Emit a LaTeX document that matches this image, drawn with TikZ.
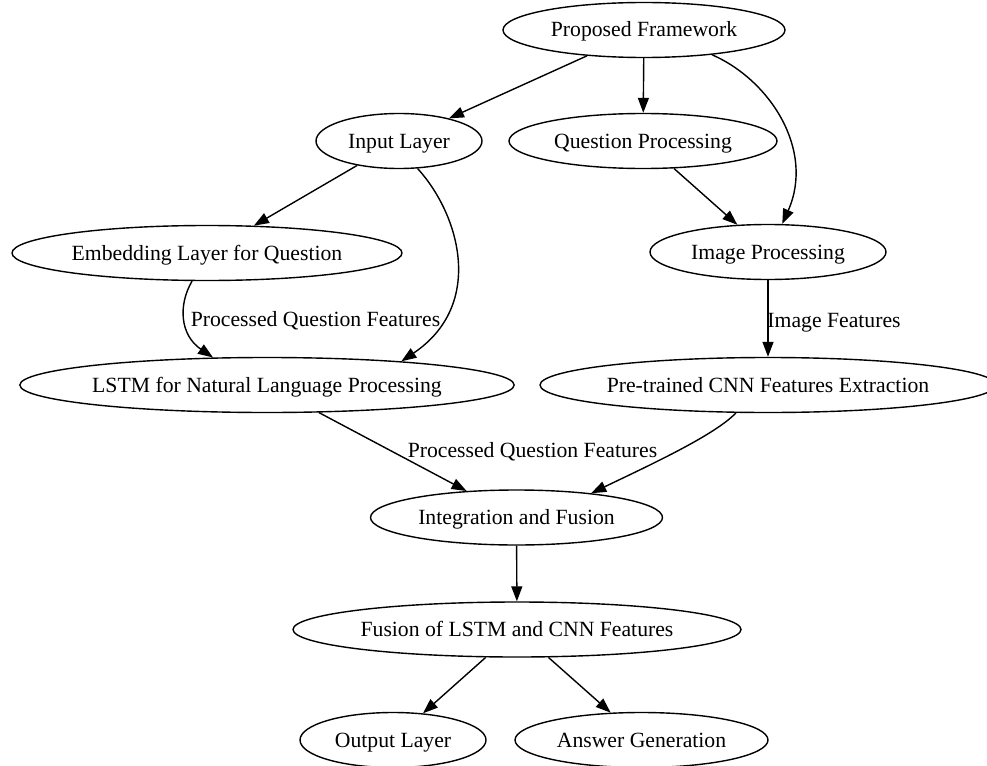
\documentclass[tikz,border=0pt]{standalone}
\usepackage{fontspec}
\setmainfont{Liberation Serif}
\usetikzlibrary{shapes.geometric,arrows.meta}
\begin{document}
\begin{tikzpicture}[x=1pt,y=-1pt,
  box/.style={draw, ellipse, line width=1.4pt, inner sep=0pt, minimum height=55pt,
    text height=19pt, text depth=5pt,
    font=\fontsize{21.7}{24}\selectfont},
  edge/.style={line width=1.4pt, -{Triangle[length=15pt,width=11pt]}},
  lbl/.style={font=\fontsize{21.7}{24}\selectfont, inner sep=0pt, text height=19pt, text depth=5pt}]
\useasboundingbox (0,0) rectangle (987,765);

\node[box, minimum width=282pt] (pf)    at (644,30)    {Proposed Framework};
\node[box, minimum width=166pt] (inl)   at (399,141)   {Input Layer};
\node[box, minimum width=268pt] (qp)    at (643,141)   {Question Processing};
\node[box, minimum width=390pt] (emb)   at (207,253)   {Embedding Layer for Question};
\node[box, minimum width=236pt] (ip)    at (768,252)   {Image Processing};
\node[box, minimum width=492pt] (lstm)  at (267,385)   {LSTM for Natural Language Processing};
\node[box, minimum width=454pt] (cnn)   at (768,385)   {Pre-trained CNN Features Extraction};
\node[box, minimum width=292pt] (integ) at (516.5,517.5) {Integration and Fusion};
\node[box, minimum width=448pt] (fus)   at (517,629.5) {Fusion of LSTM and CNN Features};
\node[box, minimum width=186pt] (out)   at (393,740)   {Output Layer};
\node[box, minimum width=253pt] (ans)   at (641.5,740) {Answer Generation};

\draw[edge] (pf) -- (inl);
\draw[edge] (pf) -- (qp);
\draw[edge] (pf.-20) .. controls (770,80) and (815,150) .. (ip.63);
\draw[edge] (inl) -- (emb);
\draw[edge] (inl.-56) .. controls (460,215) and (485,305) .. (lstm.10);
\draw[edge] (qp) -- (ip);
\draw[edge] (emb.-118) .. controls (178,305) and (180,335) .. (lstm.153);
\draw[edge] (ip) -- (cnn);
\draw[edge] (lstm) -- (integ);
\draw[edge] (cnn.-139) .. controls (715,435) and (650,465) .. (integ.18);
\draw[edge] (integ) -- (fus);
\draw[edge] (fus) -- (out);
\draw[edge] (fus) -- (ans);

\node[lbl] (l1) at (315.5,319) {Processed Question Features};
\node[lbl] (l2) at (834,320) {Image Features};
\node[lbl] (l3) at (532.5,450) {Processed Question Features};
\end{tikzpicture}
\end{document}
